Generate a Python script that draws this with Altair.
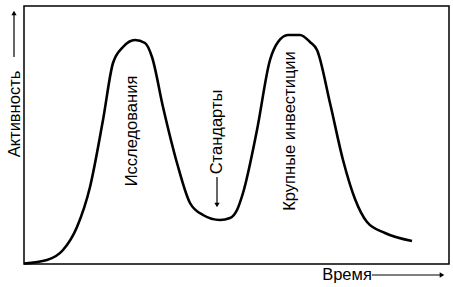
import altair as alt
import pandas as pd

# Curve (time vs activity)
time_vals = [0, 23, 39, 53, 66, 79, 89, 99, 111, 121, 128, 139, 153, 166, 179, 196,
             206, 213, 219, 233, 246, 254, 264, 276, 286, 293, 306, 319, 331, 343, 361, 388]
activity_vals = [0.5, 4, 14, 37, 77, 144, 201, 217, 224, 221, 207, 157, 101, 61, 49, 44,
                 46, 54, 71, 134, 204, 222, 229, 229, 222, 214, 161, 104, 65, 42, 31, 23]

# Annotations inside the plot (rotated)
label_text = ["Исследования", "Стандарты", "Крупные инвестиции"]
label_x = [108, 193, 266]
label_y = [133, 132, 133]

# Axis captions
axis_text = ["Активность", "Время"]

FONT = "Liberation Sans"
FS = 16.5

curve = pd.DataFrame({"t": time_vals, "a": activity_vals})
labels = pd.DataFrame({"t": label_x, "a": label_y, "txt": label_text})
ylab = pd.DataFrame({"t": [-9], "a": [150], "txt": [axis_text[0]]})
xlab = pd.DataFrame({"t": [323], "a": [-16], "txt": [axis_text[1]]})
shafts = pd.DataFrame({
    "t": [-10, 348, 193],
    "t2": [-10, 418, 193],
    "a": [207, -11, 87],
    "a2": [250, -11, 59],
})
heads = pd.DataFrame({
    "t": [-10, 418, 193],
    "a": [251, -11, 59],
    "shape": ["triangle-up", "triangle-right", "triangle-down"],
})

xs = alt.Scale(domain=[0, 425], nice=False, zero=False)
ys = alt.Scale(domain=[0, 258], nice=False, zero=False)

line = alt.Chart(curve).mark_line(color="black", strokeWidth=2.6, interpolate="monotone").encode(
    x=alt.X("t:Q", scale=xs, axis=None),
    y=alt.Y("a:Q", scale=ys, axis=None),
)

inner = alt.Chart(labels).mark_text(
    angle=270, font=FONT, fontSize=FS, color="black", align="center", baseline="middle"
).encode(x=alt.X("t:Q", scale=xs), y=alt.Y("a:Q", scale=ys), text="txt:N")

ytitle = alt.Chart(ylab).mark_text(
    angle=270, font=FONT, fontSize=FS, color="black", align="center", baseline="middle"
).encode(x=alt.X("t:Q", scale=xs), y=alt.Y("a:Q", scale=ys), text="txt:N")

xtitle = alt.Chart(xlab).mark_text(
    font=FONT, fontSize=FS, color="black", align="center", baseline="alphabetic"
).encode(x=alt.X("t:Q", scale=xs), y=alt.Y("a:Q", scale=ys), text="txt:N")

rules = alt.Chart(shafts).mark_rule(color="black", strokeWidth=1.2).encode(
    x=alt.X("t:Q", scale=xs), x2="t2:Q", y=alt.Y("a:Q", scale=ys), y2="a2:Q"
)

arrowheads = alt.Chart(heads).mark_point(filled=True, color="black", opacity=1, size=28).encode(
    x=alt.X("t:Q", scale=xs),
    y=alt.Y("a:Q", scale=ys),
    shape=alt.Shape("shape:N", scale=None),
)

chart = alt.layer(line, inner, ytitle, xtitle, rules, arrowheads).properties(
    width=425,
    height=258,
    autosize=alt.AutoSizeParams(type="none"),
    padding={"left": 24, "top": 6, "right": 4, "bottom": 23},
    background="white",
).configure_view(stroke="black", strokeWidth=1.5)

chart.save("out.html", embed_options={"renderer": "svg", "actions": False})
